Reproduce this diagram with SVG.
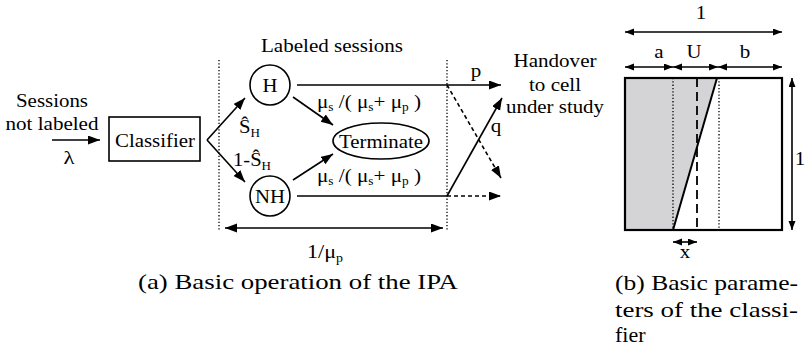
<svg xmlns="http://www.w3.org/2000/svg" width="808" height="353" viewBox="0 0 808 353">
<style>
.lbl{font-family:'Liberation Serif',serif;font-size:19px;fill:#000}
.mid{text-anchor:middle}
.sub{font-size:12px}
.capt{font-family:'Liberation Serif',serif;font-size:22px;fill:#000}
.ln{fill:none;stroke:#000;stroke-width:1.6}
.dot{fill:none;stroke:#000;stroke-width:1.3;stroke-dasharray:1.3,2}
.dsh{fill:none;stroke:#000;stroke-width:1.6;stroke-dasharray:4,3}
.arr{marker-end:url(#ah)}
.arr2{marker-start:url(#ah);marker-end:url(#ah)}
.arrs{marker-start:url(#sm);marker-end:url(#sm)}
</style>
<defs>
<marker id="ah" markerUnits="userSpaceOnUse" markerWidth="13" markerHeight="10" refX="12" refY="4.5" orient="auto-start-reverse"><path d="M0,0 L12,4.5 L0,9 z" fill="#000"/></marker>
<marker id="sm" markerUnits="userSpaceOnUse" markerWidth="10" markerHeight="8" refX="9" refY="3.5" orient="auto-start-reverse"><path d="M0,0 L9,3.5 L0,7 z" fill="#000"/></marker>
</defs>
<g font-family="Liberation Serif">
<g id="input-label">
<text class="lbl mid" x="52" y="107" textLength="72" lengthAdjust="spacingAndGlyphs">Sessions</text>
<text class="lbl mid" x="52" y="130" textLength="93" lengthAdjust="spacingAndGlyphs">not labeled</text>
<text class="lbl mid" x="69" y="164" textLength="11" lengthAdjust="spacingAndGlyphs">λ</text>
</g>

<g id="classifier">
<rect x="109" y="117" width="91" height="44" fill="#fff" stroke="#000" stroke-width="1.6"/>
<text class="lbl mid" x="155" y="147" textLength="80" lengthAdjust="spacingAndGlyphs">Classifier</text>
</g>

<g id="labeled-title"><text class="lbl mid" x="332" y="52" textLength="142" lengthAdjust="spacingAndGlyphs">Labeled sessions</text></g>

<g id="H">
<circle cx="270" cy="85" r="20" fill="#fff" stroke="#000" stroke-width="1.6"/>
<text class="lbl mid" x="270" y="92" textLength="15" lengthAdjust="spacingAndGlyphs">H</text>
</g>

<g id="NH">
<circle cx="270" cy="196" r="20" fill="#fff" stroke="#000" stroke-width="1.6"/>
<text class="lbl mid" x="270" y="203" textLength="30" lengthAdjust="spacingAndGlyphs">NH</text>
</g>

<g id="terminate">
<ellipse cx="381" cy="141" rx="48" ry="18" fill="#fff" stroke="#000" stroke-width="1.6"/>
<text class="lbl mid" x="381" y="148" textLength="84" lengthAdjust="spacingAndGlyphs">Terminate</text>
</g>

<g id="handover">
<text class="lbl mid" x="555" y="67" textLength="83" lengthAdjust="spacingAndGlyphs">Handover</text>
<text class="lbl mid" x="555" y="91" textLength="52" lengthAdjust="spacingAndGlyphs">to cell</text>
<text class="lbl mid" x="555" y="113" textLength="98" lengthAdjust="spacingAndGlyphs">under study</text>
</g>

<g id="connectors">
<path class="ln arr" d="M52,140 H100"/>
<path class="ln arr" d="M207,140 L245,98"/>
<path class="ln arr" d="M207,140 L245,182"/>
<path class="ln arr" d="M293,97 L333,125"/>
<path class="ln arr" d="M293,180 L333,154"/>
<path class="ln arr" d="M297,85 H501"/>
<path class="ln" d="M297,196 H447"/>
<path class="dsh arr" d="M447,196 H501"/>
<path class="dsh arr" d="M447,85 L501,178"/>
<path class="ln arr" d="M447,196 L502,98"/>
<path class="dot" d="M219,60 V230"/>
<path class="dot" d="M447,60 V230"/>
<path class="ln arr2" d="M225,228 H443"/>
</g>

<g id="edge-labels">
<text class="lbl" x="239" y="133" textLength="21" lengthAdjust="spacingAndGlyphs">Ŝ<tspan class="sub" dy="4">H</tspan></text>
<text class="lbl" x="233" y="166" textLength="38" lengthAdjust="spacingAndGlyphs">1-Ŝ<tspan class="sub" dy="4">H</tspan></text>
<text class="lbl" x="317" y="108" textLength="104" lengthAdjust="spacingAndGlyphs">μ<tspan class="sub" dy="3">s</tspan><tspan dy="-3"> /( μ</tspan><tspan class="sub" dy="3">s</tspan><tspan dy="-3">+ μ</tspan><tspan class="sub" dy="3">p</tspan><tspan dy="-3"> )</tspan></text>
<text class="lbl" x="317" y="182" textLength="104" lengthAdjust="spacingAndGlyphs">μ<tspan class="sub" dy="3">s</tspan><tspan dy="-3"> /( μ</tspan><tspan class="sub" dy="3">s</tspan><tspan dy="-3">+ μ</tspan><tspan class="sub" dy="3">p</tspan><tspan dy="-3"> )</tspan></text>
<text class="lbl mid" x="476" y="77" textLength="10.5" lengthAdjust="spacingAndGlyphs">p</text>
<text class="lbl mid" x="496" y="132" textLength="10.5" lengthAdjust="spacingAndGlyphs">q</text>
<text class="lbl" x="307" y="258" textLength="36" lengthAdjust="spacingAndGlyphs">1/μ<tspan class="sub" dy="4">p</tspan></text>
</g>

<g id="caption-a">
<text class="capt" x="138" y="289" textLength="320" lengthAdjust="spacingAndGlyphs">(a) Basic operation of the IPA</text>
</g>

<g id="classifier-params">
<polygon points="625,78 717,78 673,230 625,230" fill="#d4d4d6"/>
<path class="dot" d="M673,78 V230 M719,78 V230"/>
<path d="M697,78 V230" fill="none" stroke="#000" stroke-width="1.8" stroke-dasharray="9,5"/>
<path d="M673,230 L717,78" fill="none" stroke="#000" stroke-width="2"/>
<rect x="625" y="78" width="157" height="152" fill="none" stroke="#000" stroke-width="2.2"/>
<path class="ln arrs" d="M625,32 H782"/>
<path class="ln arrs" d="M625,67 H673"/>
<path class="ln arrs" d="M673,67 H718"/>
<path class="ln arrs" d="M718,67 H782"/>
<path class="ln arrs" d="M792,78 V230"/>
<path class="ln arrs" d="M673,242 H697"/>
<text class="lbl mid" x="701" y="19" textLength="10.5" lengthAdjust="spacingAndGlyphs">1</text>
<text class="lbl mid" x="659" y="58" textLength="9.3" lengthAdjust="spacingAndGlyphs">a</text>
<text class="lbl mid" x="694" y="58" textLength="15" lengthAdjust="spacingAndGlyphs">U</text>
<text class="lbl mid" x="745" y="58" textLength="10.5" lengthAdjust="spacingAndGlyphs">b</text>
<text class="lbl mid" x="800" y="165" textLength="10.5" lengthAdjust="spacingAndGlyphs">1</text>
<text class="lbl mid" x="685" y="258" textLength="10.5" lengthAdjust="spacingAndGlyphs">x</text>
</g>

<g id="caption-b">
<text class="capt" x="615" y="290" textLength="183" lengthAdjust="spacingAndGlyphs">(b) Basic parame-</text>
<text class="capt" x="615" y="317" textLength="183" lengthAdjust="spacingAndGlyphs">ters of the classi-</text>
<text class="capt" x="615" y="342">fier</text>
</g>
</g>
</svg>
